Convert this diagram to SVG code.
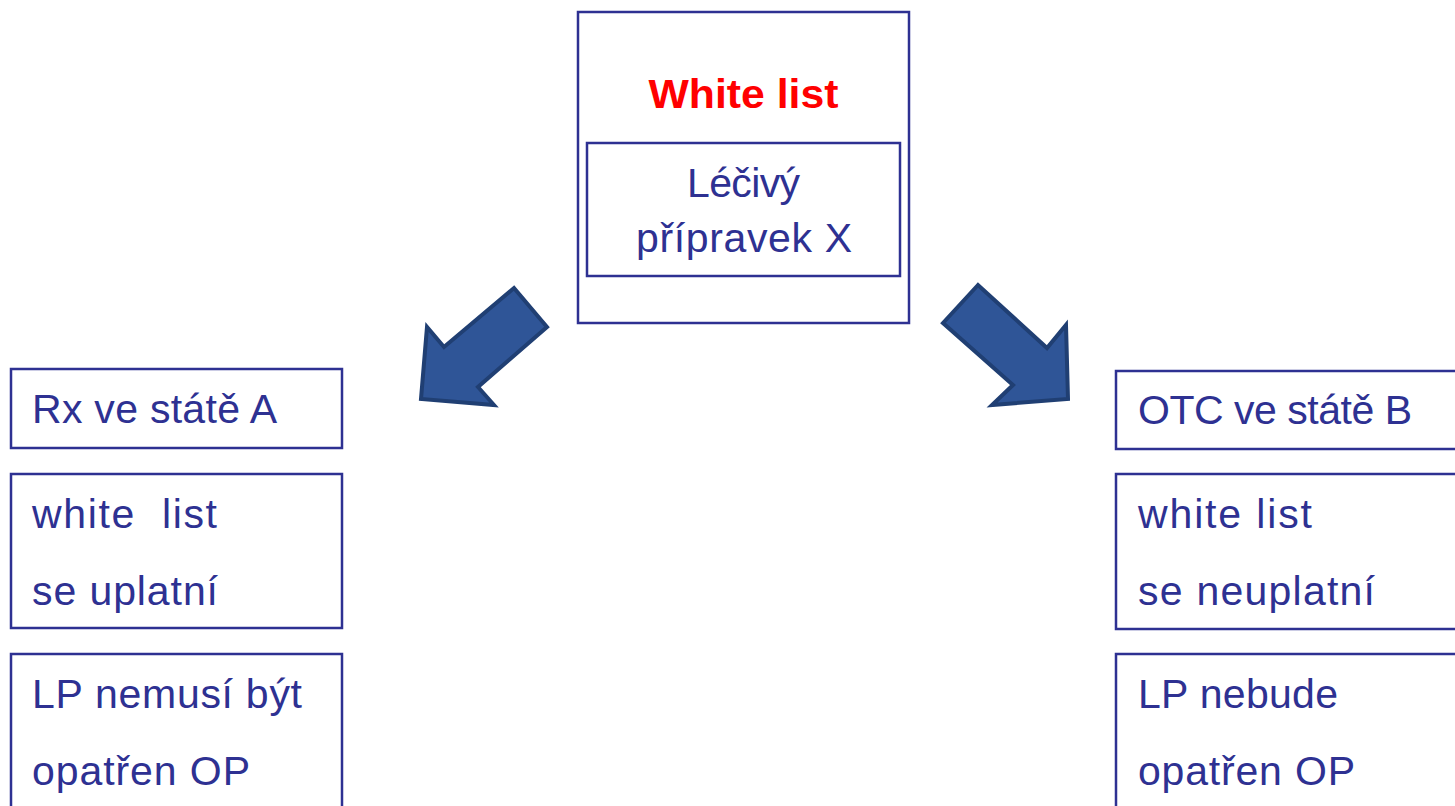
<svg xmlns="http://www.w3.org/2000/svg" width="1455" height="806" viewBox="0 0 1455 806">
<style>
.box{fill:#fff;stroke:#2E3192;stroke-width:2.5}
.t{font-family:"Liberation Sans",Arial,sans-serif;font-size:41px;fill:#2E3192;white-space:pre}
.red{font-family:"Liberation Sans",Arial,sans-serif;font-size:40px;font-weight:bold;fill:#FF0000}
.arr{fill:#2F5597;stroke:#203F73;stroke-width:4;stroke-linejoin:miter}
</style>
<rect width="1455" height="806" fill="#fff"/>
<g id="center">
<rect class="box" x="578" y="12" width="331" height="311"/>
<text class="red" x="743.5" y="108" text-anchor="middle" textLength="190" lengthAdjust="spacingAndGlyphs">White list</text>
<g id="inner">
<rect class="box" x="587" y="143" width="313" height="133"/>
<text class="t" x="743.5" y="197" text-anchor="middle" textLength="113">Léčivý</text>
<text class="t" x="744" y="252" text-anchor="middle" textLength="216">přípravek X</text>
</g>
</g>
<g id="connectors">
<polygon class="arr" points="514,288 547,327 478,387 494,405 421,399 427,327 444,347"/>
<polygon class="arr" points="978,285 943,323 1013,385 992,405 1068,399 1066,325 1047,348"/>
</g>
<g id="left-rx">
<rect class="box" x="11" y="369" width="331" height="79"/>
<text class="t" x="32" y="423" textLength="245">Rx ve státě A</text>
</g>
<g id="left-wl">
<rect class="box" x="11" y="474" width="331" height="154"/>
<text class="t" x="32" y="528" textLength="185">white  list</text>
<text class="t" x="32" y="605" textLength="186">se uplatní</text>
</g>
<g id="left-lp">
<rect class="box" x="11" y="654" width="331" height="170"/>
<text class="t" x="32" y="708" textLength="270">LP nemusí být</text>
<text class="t" x="32" y="785" textLength="218">opatřen OP</text>
</g>
<g id="right-otc">
<rect class="box" x="1116" y="371" width="345" height="78"/>
<text class="t" x="1138" y="424" textLength="274">OTC ve státě B</text>
</g>
<g id="right-wl">
<rect class="box" x="1116" y="474" width="345" height="155"/>
<text class="t" x="1138" y="528" textLength="174">white list</text>
<text class="t" x="1138" y="605" textLength="237">se neuplatní</text>
</g>
<g id="right-lp">
<rect class="box" x="1116" y="654" width="345" height="170"/>
<text class="t" x="1138" y="708" textLength="200">LP nebude</text>
<text class="t" x="1138" y="785" textLength="217">opatřen OP</text>
</g>
</svg>
